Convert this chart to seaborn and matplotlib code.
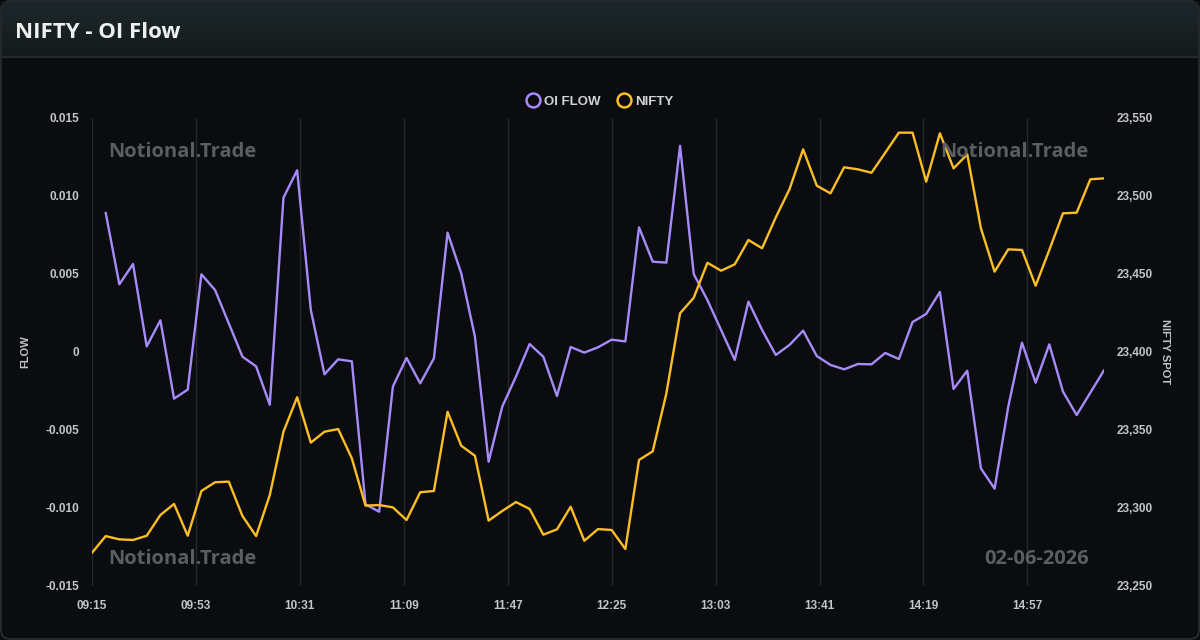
import numpy as np
import pandas as pd
import matplotlib
matplotlib.use("Agg")
import matplotlib.pyplot as plt
import seaborn as sns
from matplotlib.patches import FancyBboxPatch
from matplotlib.lines import Line2D

# ---------------- data ----------------
session_date = "2026-06-02"
start_time = "09:15"
n_points = 75
interval = "5min"

oi_flow = [np.nan,
           0.00893, 0.00434, 0.00564, 0.00036, 0.00203, -0.00299, -0.00241, 0.00498, 0.00397,
           0.00184, -0.00030, -0.00092, -0.00338, 0.00989, 0.01165, 0.00269, -0.00143, -0.00047,
           -0.00060, -0.00976, -0.01024, -0.00222, -0.00038, -0.00201, -0.00041, 0.00765, 0.00504,
           0.00098, -0.00703, -0.00350, -0.00158, 0.00051, -0.00030, -0.00282, 0.00032, -0.00004,
           0.00030, 0.00079, 0.00068, 0.00799, 0.00579, 0.00573, 0.01321, 0.00500, 0.00333,
           0.00141, -0.00051, 0.00323, 0.00141, -0.00019, 0.00045, 0.00137, -0.00026, -0.00083,
           -0.00111, -0.00077, -0.00079, -0.00006, -0.00045, 0.00192, 0.00244, 0.00385, -0.00237,
           -0.00120, -0.00746, -0.00876, -0.00350, 0.00060, -0.00197, 0.00049, -0.00254, -0.00404,
           -0.00261, -0.00117]

nifty = [23271.3, 23282.0, 23279.9, 23279.5, 23282.2, 23295.5, 23302.6, 23282.2, 23310.9, 23316.5,
         23316.9, 23294.9, 23282.0, 23308.3, 23348.9, 23371.0, 23341.9, 23348.9, 23350.6,
         23331.8, 23301.5, 23301.9, 23300.4, 23292.3, 23310.1, 23310.9, 23361.7, 23339.9,
         23333.5, 23291.9, 23298.1, 23303.8, 23299.4, 23282.9, 23286.3, 23300.8, 23279.0,
         23286.5, 23285.9, 23273.7, 23330.8, 23336.3, 23373.5, 23424.8, 23434.8, 23457.2,
         23452.1, 23456.2, 23471.8, 23466.5, 23486.3, 23504.3, 23529.9, 23506.6, 23501.7,
         23518.4, 23517.1, 23514.9, 23527.7, 23540.6, 23540.6, 23509.2, 23540.2, 23517.7,
         23526.7, 23479.3, 23451.5, 23465.8, 23465.4, 23442.5, 23465.4, 23488.9, 23489.3,
         23510.7, 23511.3]

x_tick_labels = ["09:15", "09:53", "10:31", "11:09", "11:47", "12:25", "13:03", "13:41", "14:19", "14:57"]
flow_ticks = [-0.015, -0.010, -0.005, 0.0, 0.005, 0.010, 0.015]
flow_tick_labels = ["-0.015", "-0.010", "-0.005", "0", "0.005", "0.010", "0.015"]
spot_ticks = [23250, 23300, 23350, 23400, 23450, 23500, 23550]
spot_tick_labels = ["23,250", "23,300", "23,350", "23,400", "23,450", "23,500", "23,550"]

title = "NIFTY - OI Flow"
watermark = "Notional.Trade"
date_label = "02-06-2026"

times = pd.date_range(f"{session_date} {start_time}", periods=n_points, freq=interval)
df = pd.DataFrame({"time": times, "oi_flow": oi_flow, "nifty": nifty})
x_ticks = pd.to_datetime([f"{session_date} {t}" for t in x_tick_labels])

# ---------------- style ----------------
BG = "#0b0c10"
PURPLE = "#a78bfa"
YELLOW = "#fbbf24"
TICK = "#c4c5c8"
GRID = "#26282c"

sns.set_theme(style="dark")
plt.rcParams.update({
    "font.family": ["Liberation Sans", "DejaVu Sans"],
    "axes.facecolor": "none",
    "figure.facecolor": BG,
})

W, H = 1200, 640
fig = plt.figure(figsize=(W / 100, H / 100), dpi=100)

def fx(px):
    return px / W

def fy(py):
    return 1 - py / H

# card + title bar
bg_ax = fig.add_axes([0, 0, 1, 1], zorder=-10)
bg_ax.set_xlim(0, W)
bg_ax.set_ylim(H, 0)
bg_ax.axis("off")
bg_ax.add_patch(FancyBboxPatch((1, 1), W - 2, H - 2, boxstyle="round,pad=0,rounding_size=9",
                               facecolor=BG, edgecolor="#2a2e33", linewidth=1.2))
grad = np.linspace(0, 1, 60).reshape(-1, 1)
bar_cmap = matplotlib.colors.LinearSegmentedColormap.from_list("bar", ["#1d2729", "#141b1d"])
bg_ax.imshow(grad, cmap=bar_cmap, extent=(2, W - 2, 56, 2), aspect="auto", zorder=1)
bg_ax.plot([1, W - 1], [56.5, 56.5], color="#263033", lw=1.2, zorder=2)

fig.text(fx(15), fy(32), title, ha="left", va="center", fontsize=16, fontweight="bold",
         color="#eef0f0", family=["Open Sans", "DejaVu Sans"])

# main axes
L, R, T, B = 92, 1104, 118, 586
ax = fig.add_axes([fx(L), fy(B), fx(R - L), (B - T) / H])
ax2 = ax.twinx()

sns.lineplot(data=df, x="time", y="oi_flow", ax=ax, color=PURPLE, linewidth=1.7, zorder=3)
sns.lineplot(data=df, x="time", y="nifty", ax=ax2, color=YELLOW, linewidth=1.7, zorder=3)

ax.set_xlim(times[0], times[-1])
ax.set_ylim(-0.015, 0.015)
ax2.set_ylim(23250, 23550)

ax.set_xticks(x_ticks)
ax.set_xticklabels(x_tick_labels)
ax.set_yticks(flow_ticks)
ax.set_yticklabels(flow_tick_labels)
ax2.set_yticks(spot_ticks)
ax2.set_yticklabels(spot_tick_labels)

for a in (ax, ax2):
    for s in a.spines.values():
        s.set_visible(False)
    a.grid(False)

for xt in x_ticks:
    ax.axvline(xt, color=GRID, lw=1, zorder=0)

ax.tick_params(axis="x", colors=GRID, length=5, width=1, pad=5, labelcolor=TICK, labelsize=8.5)
ax.tick_params(axis="y", length=0, pad=9, labelcolor=TICK, labelsize=8.5)
ax2.tick_params(axis="y", length=0, pad=9, labelcolor=TICK, labelsize=8.5)
for lab in ax.get_xticklabels() + ax.get_yticklabels() + ax2.get_yticklabels():
    lab.set_fontweight("bold")

ax.set_xlabel("")
ax.set_ylabel("FLOW", color=TICK, fontsize=8, fontweight="bold")
ax2.set_ylabel("NIFTY SPOT", color=TICK, fontsize=8, fontweight="bold", rotation=270)
ax.yaxis.set_label_coords((30 - L) / (R - L), 0.5)
ax2.yaxis.set_label_coords((1170 - L) / (R - L), 0.5)

# legend
handles = [Line2D([], [], color=PURPLE, marker="o", markersize=10, markerfacecolor="none",
                  markeredgewidth=1.8, linestyle="none", label="OI FLOW"),
           Line2D([], [], color=YELLOW, marker="o", markersize=10, markerfacecolor="none",
                  markeredgewidth=1.8, linestyle="none", label="NIFTY")]
leg = fig.legend(handles=handles, loc="center", bbox_to_anchor=(0.5, fy(102)), ncol=2,
                 frameon=False, handletextpad=0.35, columnspacing=1.3, handlelength=1.0,
                 prop={"size": 9.5, "weight": "bold", "family": "Liberation Sans"})
for t in leg.get_texts():
    t.set_color("#d2d3d6")

# watermarks
wm = dict(fontsize=14.5, fontweight="bold", color="#5c5d60", family=["Open Sans", "DejaVu Sans"],
          va="center")
fig.text(fx(108), fy(152), watermark, ha="left", **wm)
fig.text(fx(108), fy(559), watermark, ha="left", **wm)
fig.text(fx(1089), fy(152), watermark, ha="right", **wm)
fig.text(fx(1089), fy(559), date_label, ha="right", **wm)

fig.savefig("out.png", dpi=100, facecolor=BG)
